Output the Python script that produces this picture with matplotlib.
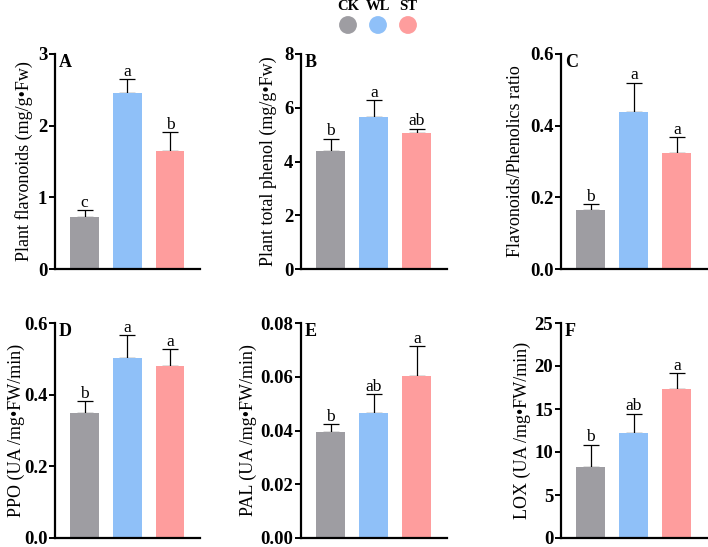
import matplotlib

matplotlib.use("Agg")
import matplotlib.pyplot as plt
from matplotlib.ticker import FormatStrFormatter

plt.rcParams["font.family"] = ["Liberation Serif", "DejaVu Serif"]

groups = ["CK", "WL", "ST"]
colors = ["#9e9da2", "#8fc0f8", "#fe9d9d"]

flavonoids = [0.73, 2.45, 1.65]
flavonoids_err = [0.09, 0.20, 0.26]
flavonoids_sig = ["c", "a", "b"]

phenol = [4.40, 5.67, 5.05]
phenol_err = [0.45, 0.62, 0.17]
phenol_sig = ["b", "a", "ab"]

ratio = [0.164, 0.437, 0.325]
ratio_err = [0.017, 0.083, 0.042]
ratio_sig = ["b", "a", "a"]

ppo = [0.348, 0.501, 0.481]
ppo_err = [0.034, 0.065, 0.046]
ppo_sig = ["b", "a", "a"]

pal = [0.0393, 0.0464, 0.0602]
pal_err = [0.0031, 0.0072, 0.0112]
pal_sig = ["b", "ab", "a"]

lox = [8.3, 12.2, 17.3]
lox_err = [2.55, 2.25, 1.9]
lox_sig = ["b", "ab", "a"]

panels = [
    ("A", "Plant flavonoids (mg/g\u2022Fw)", flavonoids, flavonoids_err, flavonoids_sig,
     [0, 1, 2, 3], "%d", (55, 54, 145, 215), -0.152),
    ("B", "Plant total phenol (mg/g\u2022Fw)", phenol, phenol_err, phenol_sig,
     [0, 2, 4, 6, 8], "%d", (301, 54, 146, 215), -0.164),
    ("C", "Flavonoids/Phenolics ratio", ratio, ratio_err, ratio_sig,
     [0, 0.2, 0.4, 0.6], "%.1f", (561, 54, 146, 215), -0.253),
    ("D", "PPO (UA /mg\u2022FW/min)", ppo, ppo_err, ppo_sig,
     [0, 0.2, 0.4, 0.6], "%.1f", (55, 323, 145, 215), -0.207),
    ("E", "PAL (UA /mg\u2022FW/min)", pal, pal_err, pal_sig,
     [0, 0.02, 0.04, 0.06, 0.08], "%.2f", (301, 323, 146, 215), -0.30),
    ("F", "LOX (UA /mg\u2022FW/min)", lox, lox_err, lox_sig,
     [0, 5, 10, 15, 20, 25], "%d", (561, 323, 146, 215), -0.205),
]

W, H = 708, 547
fig = plt.figure(figsize=(W / 100, H / 100), dpi=100)

x = list(range(len(groups)))
for letter, ylabel, vals, errs, sig, ticks, fmt, (px, py, pw, ph), lab_x in panels:
    ax = fig.add_axes([px / W, 1 - (py + ph) / H, pw / W, ph / H])
    ax.errorbar(x, vals, yerr=[[0] * 3, errs], fmt="none", ecolor="black",
                elinewidth=0.9, capsize=5.5, capthick=0.9, zorder=1)
    ax.bar(x, vals, width=0.67, color=colors, zorder=2)
    for xi, v, e, s in zip(x, vals, errs, sig):
        ax.annotate(s, (xi, v + e), xytext=(0, -0.5), textcoords="offset points",
                    ha="center", va="bottom", fontsize=12.5)
    ax.set_xlim(-0.69, 2.7)
    ax.set_ylim(ticks[0], ticks[-1])
    ax.set_yticks(ticks)
    ax.yaxis.set_major_formatter(FormatStrFormatter(fmt))
    ax.set_xticks([])
    for side in ("top", "right"):
        ax.spines[side].set_visible(False)
    for side in ("left", "bottom"):
        ax.spines[side].set_linewidth(1.6)
    ax.tick_params(axis="y", length=4, width=1.4, labelsize=13.5, pad=1.5)
    for t in ax.get_yticklabels():
        t.set_fontweight("bold")
    ax.set_ylabel(ylabel, fontsize=13)
    ax.yaxis.set_label_coords(lab_x, 0.5)
    ax.text(0.025, 1.0, letter, transform=ax.transAxes, ha="left", va="top",
            fontsize=13, fontweight="bold")

# legend: coloured circles with group names above
lax = fig.add_axes([333 / W, 1 - 36 / H, 90 / W, 36 / H])
lax.scatter(x, [25] * 3, s=165, c=colors, linewidths=0)
for xi, g in zip(x, groups):
    lax.text(xi, 6.5, g, ha="center", va="center", fontsize=10.5, fontweight="bold")
lax.set_xlim(-0.5, 2.5)
lax.set_ylim(36, 0)
lax.axis("off")

fig.savefig("out.png", dpi=100)
